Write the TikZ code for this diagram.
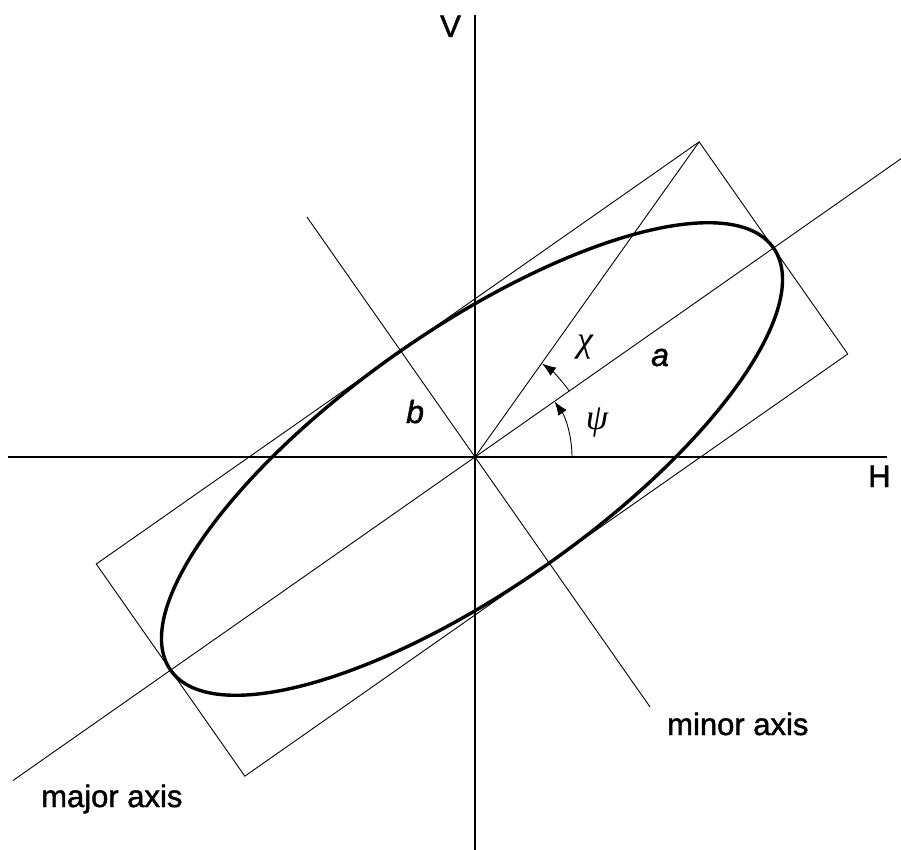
\documentclass[tikz,border=0pt]{standalone}
\usepackage{fontspec}
\setmainfont{Liberation Sans}[UprightFeatures={FakeBold=1.4},ItalicFeatures={FakeBold=1.4}]
\newfontfamily\greekfont{Liberation Serif}
\usetikzlibrary{arrows.meta,calc}
\begin{document}
\begin{tikzpicture}[x=1pt,y=1pt,
  thinline/.style={line width=0.9pt},
  axisline/.style={line width=2.2pt},
  ellipseline/.style={line width=3.4pt},
  arcarrow/.style={line width=0.9pt,-{Latex[length=14pt,width=10pt]}},
  lbl/.style={inner sep=0pt,anchor=base west,font=\fontsize{31}{37}\selectfont},
  ilbl/.style={inner sep=0pt,anchor=base west,font=\fontsize{32}{38}\selectfont\itshape},
  glbl/.style={inner sep=0pt,font=\fontsize{36}{42}\selectfont\greekfont\itshape}]
\useasboundingbox (0,0) rectangle (901,-850);
\clip (0,0) rectangle (901,-850);
\coordinate (O) at (475,-457);
\coordinate (C) at (472,-459);
% axes
\coordinate (Hl) at (8,-457);
\coordinate (Hr) at (887,-457);
\coordinate (Vt) at (475,-15);
\coordinate (Vb) at (475,-852);
\draw[axisline] (Hl) -- (Hr);
\draw[axisline] (Vt) -- (Vb);
% major and minor axes
\coordinate (Ma1) at ($(O)+(215:564)$);
\coordinate (Ma2) at ($(O)+(35:560)$);
\coordinate (Mi1) at ($(O)+(125:293)$);
\coordinate (Mi2) at ($(O)+(-55:305)$);
\draw[thinline] (Ma1) -- (Ma2);
\draw[thinline] (Mi1) -- (Mi2);
% rectangle and diagonal
\begin{scope}[shift={(C)},rotate=35]
  \coordinate (R1) at (368,129.5);
  \coordinate (R2) at (368,-129.5);
  \coordinate (R3) at (-368,-129.5);
  \coordinate (R4) at (-368,129.5);
  \draw[thinline] (R1) -- (R2) -- (R3) -- (R4) -- cycle;
  \draw[ellipseline] (0,0) ellipse[x radius=368,y radius=129.5];
\end{scope}
\draw[thinline] (O) -- (R1);
% angle arcs
\draw[arcarrow] ($(O)+(0:97)$) arc[start angle=0,end angle=35,radius=97];
\draw[arcarrow] ($(O)+(35:115)$) arc[start angle=35,end angle=54.4,radius=115];
% labels
\node[lbl] (V) at (440,-37) {V};
\node[lbl] (H) at (868,-487) {H};
\node[ilbl] (a) at (651,-366) {a};
\node[ilbl] (b) at (406,-423) {b};
\node[glbl] (chi) at (585,-347) {χ};
\node[glbl] (psi) at (597,-423) {ψ};
\node[lbl] (minor) at (667,-735) {minor axis};
\node[lbl] (major) at (41,-807) {major axis};
\end{tikzpicture}
\end{document}
